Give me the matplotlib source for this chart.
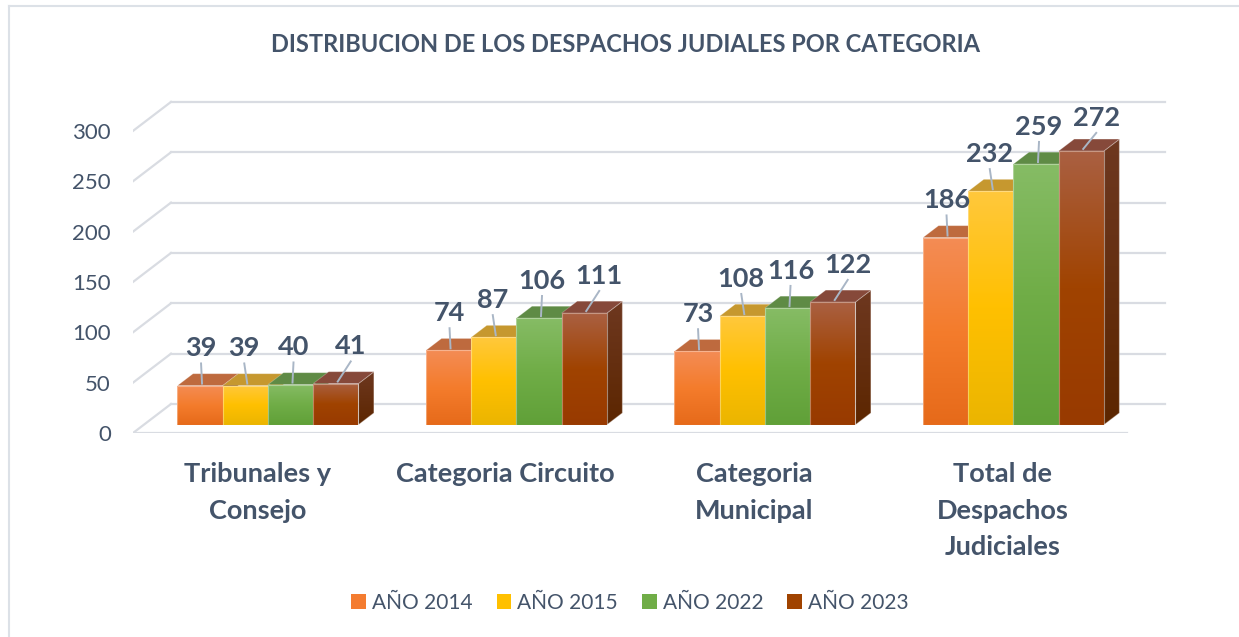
import numpy as np
import matplotlib
matplotlib.use('Agg')
import matplotlib.pyplot as plt
from matplotlib.patches import Polygon, Patch
from matplotlib.lines import Line2D
from matplotlib.colors import LinearSegmentedColormap

# datos
categorias = ['Tribunales y\nConsejo', 'Categoria Circuito', 'Categoria\nMunicipal',
              'Total de\nDespachos\nJudiciales']
series = ['AÑO 2014', 'AÑO 2015', 'AÑO 2022', 'AÑO 2023']
v2014 = [39, 74, 73, 186]
v2015 = [39, 87, 108, 232]
v2022 = [40, 106, 116, 259]
v2023 = [41, 111, 122, 272]
valores = [v2014, v2015, v2022, v2023]
yticks = [0, 50, 100, 150, 200, 250, 300]

# colores: frente (abajo, medio, arriba), tapa, lado (abajo, arriba)
frente = [['#E66A1A', '#F47C2C', '#F38C55'],
          ['#EBB500', '#FFC000', '#FFC83C'],
          ['#60A038', '#70AD47', '#86BC65'],
          ['#983A00', '#A04300', '#AA6042']]
tapa = ['#BE6A3E', '#C6982F', '#5F8B45', '#86493A']
lado = [['#5C2600', '#6A2E08'], ['#B38600', '#C79C1A'],
        ['#4E7E30', '#5A8A3E'], ['#5C2600', '#6E3820']]
leyenda_col = ['#F47C30', '#FFC000', '#70AD47', '#A04300']
TXT = '#44546A'
GRID = '#D9DCE2'

plt.rcParams['font.family'] = ['Lato', 'DejaVu Sans']

W, H = 1239, 637
fig = plt.figure(figsize=(W / 100, H / 100), dpi=100)

PXX = 248.5   # px por categoria
PXY = 1.007   # px por unidad
ax = fig.add_axes([133 / W, 204 / H, 1047 / W, 335 * PXY / H])
XL = (-0.5, -0.5 + 1047 / PXX)
YL = (0, 335)
DX = 38 / PXX
DY = 29 / PXY

# desplazamiento horizontal de las etiquetas por serie (px)
lab_off = [1, -1, 3, 15]


def P(x, v, d):
    return (x + d * DX, v + d * DY)


def grad_poly(verts, cols, z):
    poly = Polygon(verts, closed=True, facecolor='none', edgecolor='none', zorder=z)
    ax.add_patch(poly)
    xs = [p[0] for p in verts]
    ys = [p[1] for p in verts]
    cmap = LinearSegmentedColormap.from_list('g', cols)
    g = np.linspace(0, 1, 256).reshape(-1, 1)
    im = ax.imshow(g, cmap=cmap, extent=[min(xs), max(xs), min(ys), max(ys)],
                   origin='lower', aspect='auto', zorder=z, interpolation='bilinear')
    im.set_clip_path(poly)
    ax.add_patch(Polygon(verts, closed=True, facecolor='none',
                         edgecolor=(1, 1, 1, 0.35), lw=0.8, zorder=z + 0.01))


# rejilla
for t in yticks:
    ax.plot(*zip(P(-0.5, t, 1), P(3.5, t, 1)), color=GRID, lw=1.6, zorder=1)
    ax.plot(*zip(P(-0.5, t, 0), P(-0.5, t, 1)), color=GRID, lw=1.6, zorder=1)
ax.plot(*zip(P(-0.5, 0, 0), P(3.5, 0, 0)), color=GRID, lw=1.6, zorder=1)

# barras
w = 0.182
d0, d1 = 0.28, 0.69
z = 5
for i in range(len(categorias)):
    for j in range(len(series)):
        v = valores[j][i]
        x0 = i - 2 * w + j * w
        x1 = x0 + w
        side = [P(x1, 0, d0), P(x1, v, d0), P(x1, v, d1), P(x1, 0, d1)]
        grad_poly(side, lado[j], z)
        top = [P(x0, v, d0), P(x1, v, d0), P(x1, v, d1), P(x0, v, d1)]
        ax.add_patch(Polygon(top, closed=True, facecolor=tapa[j],
                             edgecolor=(1, 1, 1, 0.25), lw=0.6, zorder=z + 0.1))
        front = [P(x0, 0, d0), P(x1, 0, d0), P(x1, v, d0), P(x0, v, d0)]
        grad_poly(front, frente[j], z + 0.2)
        z += 1

        # etiqueta
        xc, vt = P((x0 + x1) / 2, v, d0)
        ly = min(vt + 37, 313)
        lx = xc + lab_off[j] / PXX
        ax.plot([lx, xc + 0.008], [ly - 15, vt + 2], color='#A9B6C6', lw=1.4, zorder=50)
        ax.text(lx, ly, str(v), ha='center', va='center', fontsize=19.5,
                fontweight='bold', color=TXT, zorder=51)

ax.set_xlim(*XL)
ax.set_ylim(*YL)
for s in ax.spines.values():
    s.set_visible(False)
ax.set_facecolor('none')
ax.set_yticks(yticks)
ax.set_xticks(range(len(categorias)))
ax.set_xticklabels(categorias, fontsize=19.5, fontweight='bold', color=TXT,
                   linespacing=1.62)
ax.tick_params(axis='y', length=0, pad=16, labelsize=16, labelcolor=TXT)
ax.tick_params(axis='x', length=0, pad=21)

fig.text(625 / W, 1 - 45 / H, 'DISTRIBUCION DE LOS DESPACHOS JUDIALES POR CATEGORIA',
         ha='center', va='center', fontsize=17, fontweight='bold', color=TXT)

handles = [Patch(facecolor=c, edgecolor='none') for c in leyenda_col]
fig.legend(handles, series, loc='center', bbox_to_anchor=(630 / W, 1 - 603 / H),
           ncol=4, frameon=False, fontsize=15, labelcolor=TXT,
           handlelength=0.7, handleheight=0.7, handletextpad=0.3, columnspacing=1.15)

# marco
fig.add_artist(Line2D([8.5 / W, 8.5 / W], [0, 1 - 6 / H], color='#DCE1E7', lw=1.5))
fig.add_artist(Line2D([8.5 / W, 1], [1 - 6 / H, 1 - 6 / H], color='#DCE1E7', lw=1.5))

fig.savefig('out.png', dpi=100, facecolor='white')
